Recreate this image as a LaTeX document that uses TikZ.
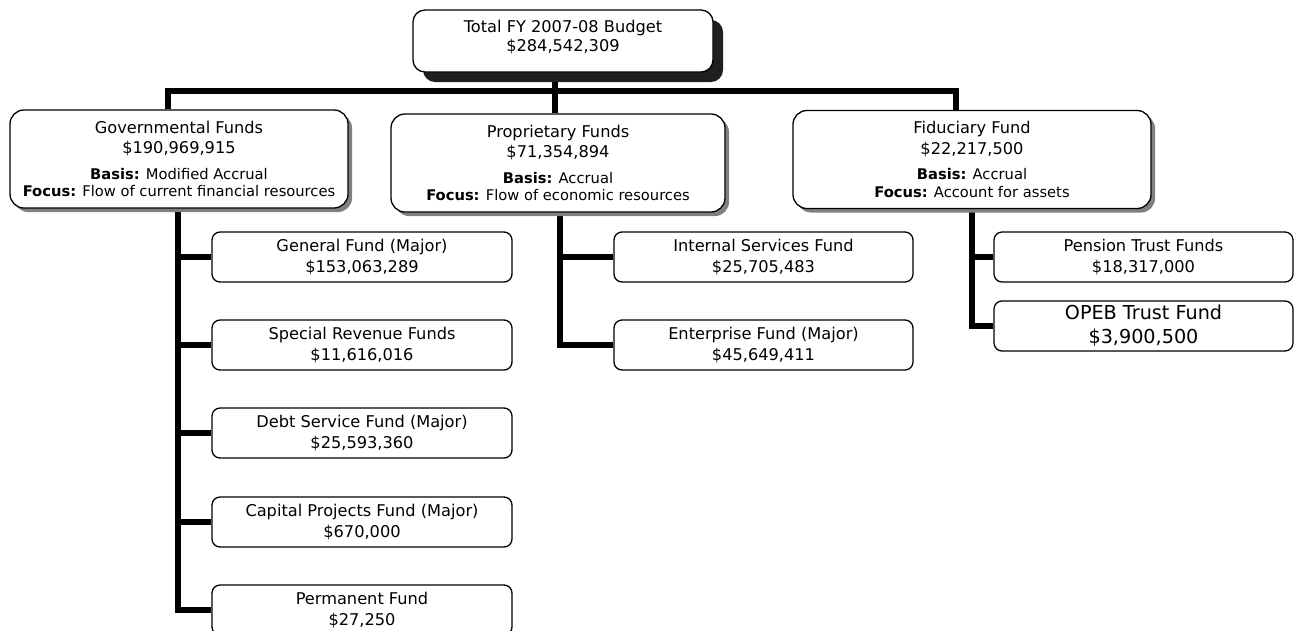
\documentclass[tikz,border=0pt]{standalone}
\usepackage{fontspec}
\setmainfont{DejaVu Sans}
\usetikzlibrary{shadows}
\pgfdeclarelayer{bg}
\pgfsetlayers{bg,main}
\newcommand\bigf{\fontsize{16.2}{20.5}\selectfont}
\newcommand\smallf{\fontsize{14.7}{17.7}\selectfont}
\begin{document}
\begin{tikzpicture}[x=1pt,y=-1pt,
  conn/.style={line width=5.5pt, black},
  basebox/.style={draw=black, fill=white, line width=1.3pt, inner sep=0pt, align=center, font=\bigf},
  topbox/.style={basebox, rounded corners=12pt, minimum width=300pt, minimum height=62pt,
     drop shadow={shadow xshift=10pt, shadow yshift=-10pt, fill=black!88, opacity=1}},
  midbox/.style={basebox, rounded corners=14pt, minimum height=98pt,
     drop shadow={shadow xshift=4pt, shadow yshift=-4pt, fill=black!50, opacity=1}},
  subbox/.style={basebox, rounded corners=8pt, minimum width=300pt, minimum height=50pt},
]
\useasboundingbox (0,0) rectangle (1295,630);
\coordinate (gs) at (168,91);
\coordinate (ps) at (555,91);
\coordinate (fs) at (956,91);
\coordinate (gv) at (178,0);
\coordinate (pv) at (560,0);
\coordinate (fv) at (972,0);

% boxes
\node[topbox] (top) at (563,41) {\begin{tabular}{@{}c@{}}Total FY 2007-08 Budget\\[-1.5pt] \$284,542,309\rule[-13pt]{0pt}{0pt}\end{tabular}};
\node[midbox, minimum width=338pt] (gov) at (179,159) {Governmental Funds\\ \$190,969,915\\[5pt] {\smallf\textbf{Basis:} Modified Accrual}\\[-2.8pt] {\smallf\textbf{Focus:} Flow of current financial resources}};
\node[midbox, minimum width=334pt] (prop) at (558,163) {Proprietary Funds\\ \$71,354,894\\[5pt] {\smallf\textbf{Basis:} Accrual}\\[-2.8pt] {\smallf\textbf{Focus:} Flow of economic resources}};
\node[midbox, minimum width=358pt] (fid) at (972,159.5) {Fiduciary Fund\\ \$22,217,500\\[5pt] {\smallf\textbf{Basis:} Accrual}\\[-2.8pt] {\smallf\textbf{Focus:} Account for assets}};

\node[subbox] (gen)  at (362,257) {General Fund (Major)\\ \$153,063,289};
\node[subbox] (spec) at (362,345) {Special Revenue Funds\\ \$11,616,016};
\node[subbox] (debt) at (362,433) {Debt Service Fund (Major)\\ \$25,593,360};
\node[subbox] (cap)  at (362,522) {Capital Projects Fund (Major)\\ \$670,000};
\node[subbox] (perm) at (362,610) {Permanent Fund\\ \$27,250};
\node[subbox, minimum width=299pt] (int) at (763.5,257) {Internal Services Fund\\ \$25,705,483};
\node[subbox, minimum width=299pt] (ent) at (763.5,345) {Enterprise Fund (Major)\\ \$45,649,411};
\node[subbox, minimum width=299pt] (pen) at (1143.5,257) {Pension Trust Funds\\ \$18,317,000};
\node[subbox, minimum width=299pt, font=\fontsize{19.2}{24}\selectfont] (opeb) at (1143.5,326) {OPEB Trust Fund\\ \$3,900,500};

% connectors (behind boxes)
\begin{pgfonlayer}{bg}
\draw[conn] (gov.north -| gs) -- (gs) -- (fs) -- (fid.north -| fs);
\draw[conn] (top.south -| ps) -- (prop.north -| ps);
\draw[conn] (gov.south -| gv) |- (perm.west);
\draw[conn] (gen.west -| gv) -- (gen.west);
\draw[conn] (spec.west -| gv) -- (spec.west);
\draw[conn] (debt.west -| gv) -- (debt.west);
\draw[conn] (cap.west -| gv) -- (cap.west);
\draw[conn] (prop.south -| pv) |- (ent.west);
\draw[conn] (int.west -| pv) -- (int.west);
\draw[conn] (fid.south -| fv) |- (opeb.west);
\draw[conn] (pen.west -| fv) -- (pen.west);
\end{pgfonlayer}
\end{tikzpicture}
\end{document}
